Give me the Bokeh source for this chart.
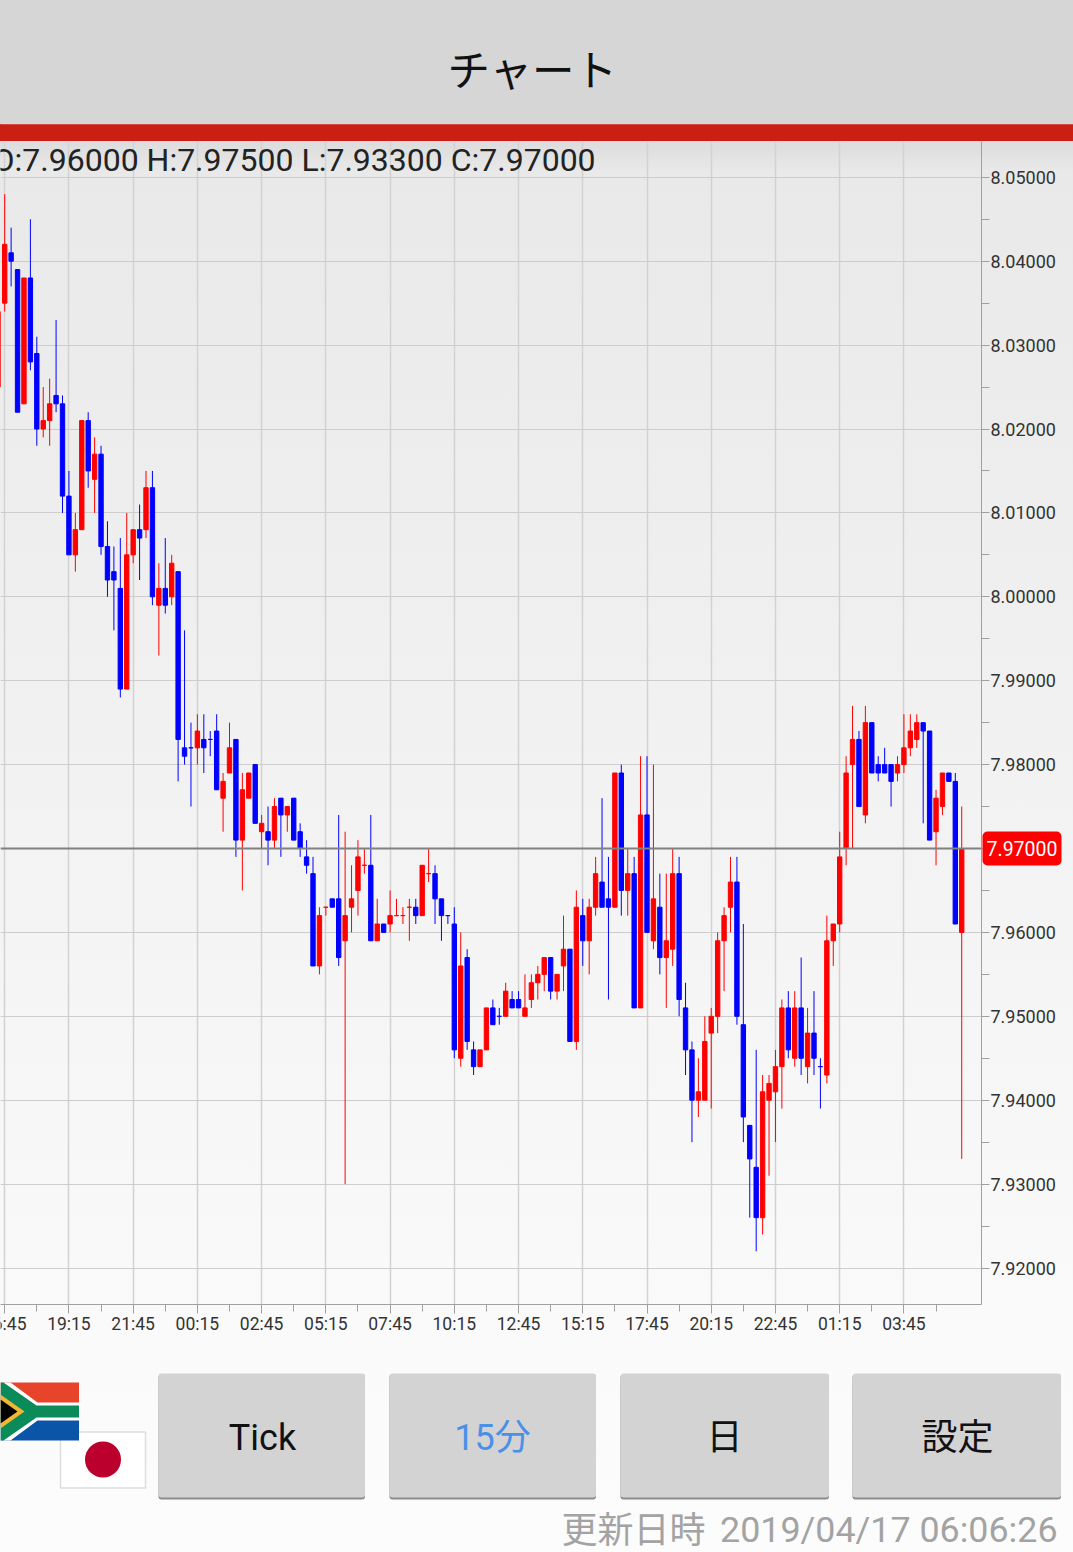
from bokeh.plotting import figure
from bokeh.embed import file_html
from bokeh.resources import INLINE
from bokeh.layouts import column
from bokeh.models import (ColumnDataSource, FixedTicker, Label, NumeralTickFormatter, Range1d, Span)
from bokeh.core.properties import value

# ---------- data ----------
index = list(range(-1, 150))
opens = [8.025,
 8.035,8.041,8.039,8.023,8.038,8.029,8.020,8.021,8.024,8.023,
 8.012,8.005,8.008,8.021,8.014,8.017,8.006,8.003,8.001,7.989,
 8.005,8.008,8.008,8.013,7.999,8.001,8.000,8.003,7.982,7.982,
 7.982,7.983,7.983,7.984,7.976,7.979,7.983,7.971,7.976,7.980,
 7.972,7.972,7.971,7.976,7.974,7.976,7.972,7.969,7.967,7.956,
 7.963,7.964,7.964,7.959,7.963,7.965,7.968,7.968,7.959,7.961,
 7.961,7.962,7.962,7.963,7.963,7.962,7.967,7.967,7.964,7.962,
 7.961,7.945,7.957,7.946,7.944,7.946,7.951,7.950,7.950,7.952,
 7.952,7.950,7.952,7.954,7.955,7.957,7.953,7.956,7.958,7.947,
 7.962,7.959,7.963,7.966,7.964,7.963,7.979,7.965,7.967,7.951,
 7.974,7.959,7.963,7.957,7.958,7.967,7.951,7.946,7.940,7.940,
 7.948,7.950,7.959,7.963,7.966,7.949,7.937,7.932,7.926,7.940,
 7.941,7.944,7.951,7.945,7.951,7.944,7.948,7.944,7.943,7.959,
 7.961,7.970,7.980,7.983,7.974,7.985,7.980,7.980,7.980,7.979,
 7.980,7.982,7.983,7.985,7.984,7.972,7.975,7.979,7.978,7.960]
highs = [8.034,
 8.048,8.044,8.039,8.038,8.045,8.031,8.025,8.026,8.033,8.024,
 8.015,8.010,8.021,8.022,8.019,8.018,8.009,8.006,8.007,8.010,
 8.008,8.011,8.015,8.015,8.004,8.007,8.005,8.003,7.996,7.985,
 7.986,7.986,7.984,7.986,7.979,7.985,7.983,7.979,7.979,7.980,
 7.974,7.975,7.976,7.976,7.975,7.976,7.973,7.971,7.969,7.963,
 7.963,7.964,7.974,7.972,7.968,7.971,7.970,7.974,7.964,7.961,
 7.965,7.964,7.963,7.964,7.964,7.968,7.970,7.968,7.964,7.962,
 7.963,7.960,7.958,7.947,7.946,7.951,7.952,7.951,7.954,7.953,
 7.953,7.955,7.955,7.956,7.957,7.957,7.955,7.962,7.958,7.965,
 7.964,7.964,7.969,7.976,7.969,7.979,7.980,7.970,7.969,7.981,
 7.981,7.980,7.967,7.967,7.970,7.969,7.954,7.947,7.945,7.950,
 7.951,7.960,7.963,7.969,7.969,7.961,7.937,7.946,7.943,7.943,
 7.946,7.952,7.953,7.953,7.957,7.951,7.953,7.945,7.962,7.961,
 7.972,7.981,7.987,7.984,7.987,7.985,7.981,7.982,7.980,7.981,
 7.986,7.986,7.986,7.985,7.984,7.977,7.979,7.979,7.979,7.975]
lows = [8.025,
 8.034,8.037,8.022,8.023,8.027,8.018,8.019,8.018,8.022,8.010,
 8.005,8.003,8.008,8.013,8.010,8.005,8.000,7.996,7.988,7.989,
 8.004,8.002,8.007,7.999,7.993,7.998,7.999,7.978,7.980,7.975,
 7.980,7.979,7.981,7.977,7.972,7.979,7.969,7.965,7.976,7.973,
 7.970,7.968,7.970,7.969,7.972,7.971,7.969,7.967,7.956,7.955,
 7.962,7.963,7.956,7.930,7.960,7.962,7.967,7.959,7.959,7.960,
 7.960,7.962,7.961,7.959,7.961,7.962,7.966,7.961,7.959,7.961,
 7.945,7.944,7.946,7.943,7.944,7.946,7.949,7.949,7.950,7.951,
 7.951,7.950,7.951,7.952,7.953,7.952,7.952,7.953,7.947,7.946,
 7.956,7.955,7.962,7.963,7.952,7.963,7.962,7.962,7.951,7.951,
 7.960,7.958,7.955,7.951,7.956,7.950,7.943,7.935,7.938,7.940,
 7.939,7.948,7.953,7.960,7.949,7.935,7.926,7.922,7.924,7.931,
 7.935,7.939,7.945,7.944,7.943,7.942,7.943,7.939,7.942,7.956,
 7.960,7.968,7.970,7.975,7.973,7.979,7.978,7.979,7.975,7.978,
 7.979,7.981,7.982,7.973,7.971,7.968,7.974,7.978,7.961,7.933]
closes = [8.034,
 8.042,8.040,8.022,8.038,8.028,8.020,8.021,8.023,8.023,8.012,
 8.005,8.008,8.021,8.015,8.017,8.006,8.002,8.002,7.989,8.005,
 8.008,8.007,8.013,8.000,8.001,7.999,8.004,7.983,7.981,7.982,
 7.984,7.982,7.983,7.977,7.978,7.982,7.971,7.977,7.979,7.973,
 7.973,7.971,7.975,7.974,7.975,7.971,7.970,7.968,7.956,7.962,
 7.963,7.963,7.957,7.962,7.964,7.969,7.968,7.959,7.961,7.960,
 7.962,7.962,7.962,7.963,7.962,7.968,7.967,7.964,7.962,7.962,
 7.946,7.956,7.947,7.944,7.946,7.951,7.949,7.950,7.953,7.951,
 7.951,7.951,7.954,7.955,7.957,7.953,7.955,7.958,7.947,7.963,
 7.959,7.963,7.967,7.963,7.963,7.979,7.965,7.967,7.951,7.974,
 7.960,7.964,7.957,7.959,7.967,7.952,7.946,7.940,7.941,7.947,
 7.950,7.959,7.962,7.966,7.950,7.938,7.933,7.926,7.941,7.942,
 7.944,7.951,7.946,7.951,7.945,7.948,7.945,7.944,7.959,7.961,
 7.969,7.979,7.983,7.975,7.985,7.979,7.979,7.979,7.978,7.980,
 7.982,7.984,7.985,7.984,7.971,7.976,7.979,7.978,7.961,7.970]
doji_blue = [29, 32, 69, 77, 127]

y_ticks = [7.92,7.93,7.94,7.95,7.96,7.97,7.98,7.99,8.00,8.01,8.02,8.03,8.04,8.05]
y_minor = [7.925,7.935,7.945,7.955,7.965,7.975,7.985,7.995,8.005,8.015,8.025,8.035,8.045]
x_ticks = [0,10,20,30,40,50,60,70,80,90,100,110,120,130,140]
x_minor = [5,15,25,35,45,55,65,75,85,95,105,115,125,135,145]
x_labels = ["16:45","19:15","21:45","00:15","02:45","05:15","07:45","10:15",
            "12:45","15:15","17:45","20:15","22:45","01:15","03:45"]

title_text = "チャート"
button_labels = ["Tick", "15分", "日", "設定"]
updated_label = "更新日時"
updated_time = "2019/04/17 06:06:26"

# ---------- colours and fonts ----------
FONT = "Roboto, Noto Sans CJK JP"
UP, DOWN = "#ff0000", "#0000ff"
W = 1073

def plain(height, y_top, y_bottom):
    p = figure(width=W, height=height, output_backend="svg", toolbar_location=None,
               x_range=Range1d(0, W), y_range=Range1d(y_bottom, y_top),
               x_axis_location=None, y_axis_location=None,
               min_border=0, outline_line_color=None, tools="")
    p.grid.visible = False
    p.border_fill_alpha = 0
    p.background_fill_alpha = 0
    p.frame_align = False
    return p

# ---------- header ----------
head = plain(141, 0, 141)
head.quad(left=0, right=W, top=0, bottom=124, color="#d6d6d6", line_color=None)
head.quad(left=0, right=W, top=124, bottom=141, color="#cc1f14", line_color=None)
head.text(x=[532], y=[67], text=[title_text], text_font=value("Noto Sans CJK JP"),
          text_font_size="42.5px", text_align="center", text_baseline="middle", text_color="#111111")

# ---------- chart ----------
px_step, px_zero = 6.423, 4.2
chart_x = Range1d(-px_zero / px_step, (981 - px_zero) / px_step)
px_price = 8390.0
chart_y = Range1d(7.97 - (1304 - 848) / px_price, 7.97 + (848 - 141) / px_price)
chart = figure(width=W, height=1204, output_backend="svg", toolbar_location=None, tools="",
               x_range=chart_x, y_range=chart_y, y_axis_location="right",
               min_border_left=0, min_border_top=0, min_border_right=92, min_border_bottom=41,
               outline_line_color=None)
chart.border_fill_alpha = 0
chart.background_fill_alpha = 0
chart.frame_align = False

xa = chart.xaxis[0]
xa.ticker = FixedTicker(ticks=x_ticks, minor_ticks=x_minor)
xa.major_label_overrides = {t: ("" if t == x_ticks[0] else s) for t, s in zip(x_ticks, x_labels)}
ya = chart.yaxis[0]
ya.ticker = FixedTicker(ticks=y_ticks, minor_ticks=y_minor)
ya.formatter = NumeralTickFormatter(format="0.00000")
for ax in (xa, ya):
    ax.axis_line_color = "#a0a0a0"
    ax.major_tick_line_color = "#a0a0a0"
    ax.minor_tick_line_color = "#a0a0a0"
    ax.major_tick_in = 0
    ax.minor_tick_in = 0
    ax.major_label_text_font = "Roboto"
    ax.major_label_text_font_size = "18px"
    ax.major_label_text_color = "#333333"
xa.major_label_text_font_size = "17.5px"
xa.major_tick_out, xa.minor_tick_out, xa.major_label_standoff = 9, 7, 0
ya.major_tick_out, ya.minor_tick_out, ya.major_label_standoff = 8, 8, 1
chart.xgrid.grid_line_color = "#d2d2d2"
chart.xgrid.grid_line_width = 1.5
chart.ygrid.grid_line_color = "#cdcdcd"
chart.ygrid.grid_line_width = 1.2
chart.xgrid.ticker = FixedTicker(ticks=x_ticks)
chart.ygrid.ticker = FixedTicker(ticks=y_ticks)

colors = [UP if c > o else DOWN if c < o else (DOWN if i in doji_blue else UP)
          for i, o, c in zip(index, opens, closes)]
src = ColumnDataSource(dict(x=index, o=opens, h=highs, l=lows, c=closes, color=colors,
                            top=[max(a, b) for a, b in zip(opens, closes)],
                            bottom=[min(a, b) for a, b in zip(opens, closes)]))
chart.segment(x0="x", x1="x", y0="h", y1="l", line_color="color", line_width=1, source=src)
chart.vbar(x="x", width=0.68, top="top", bottom="bottom", fill_color="color",
           line_color="color", line_width=1, source=src)

last_o, last_h, last_l, last_c = opens[-1], highs[-1], lows[-1], closes[-1]
chart.add_layout(Span(location=last_c, dimension="width", line_color="#808080", line_width=2))
chart.add_layout(Label(x=-8, y=1304 - 159, x_units="screen", y_units="screen",
                       text=f"O:{last_o:.5f} H:{last_h:.5f} L:{last_l:.5f} C:{last_c:.5f}",
                       text_font="Roboto", text_font_size="32px", text_color="#222222",
                       text_baseline="middle", text_align="left"))

# ---------- footer ----------
foot = plain(207, 1345, 1552)
# Japanese flag
foot.quad(left=60, right=145, top=1431.5, bottom=1487.5, fill_color="#ffffff", line_color="#dddddd", line_width=1.5)
foot.ellipse(x=[102.5], y=[1459], width=36, height=36, color="#bc002d", line_color=None)
# South African flag
foot.quad(left=0, right=78.5, top=1382, bottom=1411, color="#e8432b", line_color=None)
foot.quad(left=0, right=78.5, top=1411, bottom=1440, color="#0a55a8", line_color=None)
foot.patch(x=[0, 10, 37, 78.5, 78.5, 37, 10, 0], y=[1382, 1382, 1402, 1402, 1420, 1420, 1440, 1440],
           color="#ffffff", line_color=None)
foot.patch(x=[0, 3, 36, 78.5, 78.5, 36, 3, 0], y=[1382, 1382, 1405, 1405, 1417, 1417, 1440, 1440],
           color="#0b8a5a", line_color=None)
foot.patch(x=[0, 24, 0], y=[1394, 1411, 1428], color="#f2b632", line_color=None)
foot.patch(x=[0, 17, 0], y=[1399, 1411, 1423], color="#000000", line_color=None)
# buttons
lefts = [158, 389, 620, 852]
rights = [364.5, 595.5, 828.5, 1060.5]
centres = [262, 492, 724, 957]
text_colors = ["#111111", "#4a90e8", "#111111", "#111111"]
foot.quad(left=lefts, right=rights, top=[1374] * 4, bottom=[1499] * 4, color="#8c8c8c",
          line_color=None, border_radius=3)
foot.quad(left=lefts, right=rights, top=[1373] * 4, bottom=[1497] * 4, color="#d3d3d3",
          line_color=None, border_radius=3)
foot.text(x=centres, y=[1437] * 4, text=button_labels, text_color=text_colors, text_font=value(FONT),
          text_font_size="36px", text_align="center", text_baseline="middle")
foot.text(x=[705], y=[1526], text=[updated_label], text_color="#a3a3a3", text_font=value("Noto Sans CJK JP"),
          text_font_size="36px", text_align="right", text_baseline="middle")
foot.text(x=[1057], y=[1529], text=[updated_time], text_color="#a3a3a3", text_font=value("Roboto"),
          text_font_size="35.8px", text_align="right", text_baseline="middle")

# ---------- overlay for what lies outside the chart's frame: same price scale, whole page ----------
over = figure(width=W, height=1552, output_backend="svg", toolbar_location=None, tools="",
              x_range=Range1d(0, W),
              y_range=Range1d(7.97 - (1552 - 848) / px_price, 7.97 + 848 / px_price),
              x_axis_location=None, y_axis_location=None, min_border=0, outline_line_color=None)
over.grid.visible = False
over.border_fill_alpha = 0
over.background_fill_alpha = 0
over.frame_align = False
over.quad(left=[982], right=[1061], top=[last_c + 17 / px_price], bottom=[last_c - 17 / px_price],
          color="#ff0000", line_color=None, border_radius=5)
over.text(x=[1021.5], y=[last_c], text=[f"{last_c:.5f}"], text_color="#ffffff", text_font=value("Roboto"),
          text_font_size="19.5px", text_align="center", text_baseline="middle")
over.text(x=[px_zero], y=[7.97 - (1323.5 - 848) / px_price], text=[x_labels[0]], text_color="#333333",
          text_font=value("Roboto"), text_font_size="17.5px", text_align="center", text_baseline="middle")
over.styles = {"position": "absolute", "left": "0px", "top": "0px"}

page = column(head, chart, foot, over, spacing=0)
page.styles = {"position": "absolute", "left": "0px", "top": "0px", "width": "1073px", "height": "1552px",
               "background": "linear-gradient(to bottom, #d6d6d6 0, #d6d6d6 124px, #cc1f14 124px, #cc1f14 141px, #dcdcdc 141px, #e9e9e9 172px, #fafafa 1330px, #fcfcfc 1552px)"}

open("out.html", "w").write(file_html(page, INLINE))
